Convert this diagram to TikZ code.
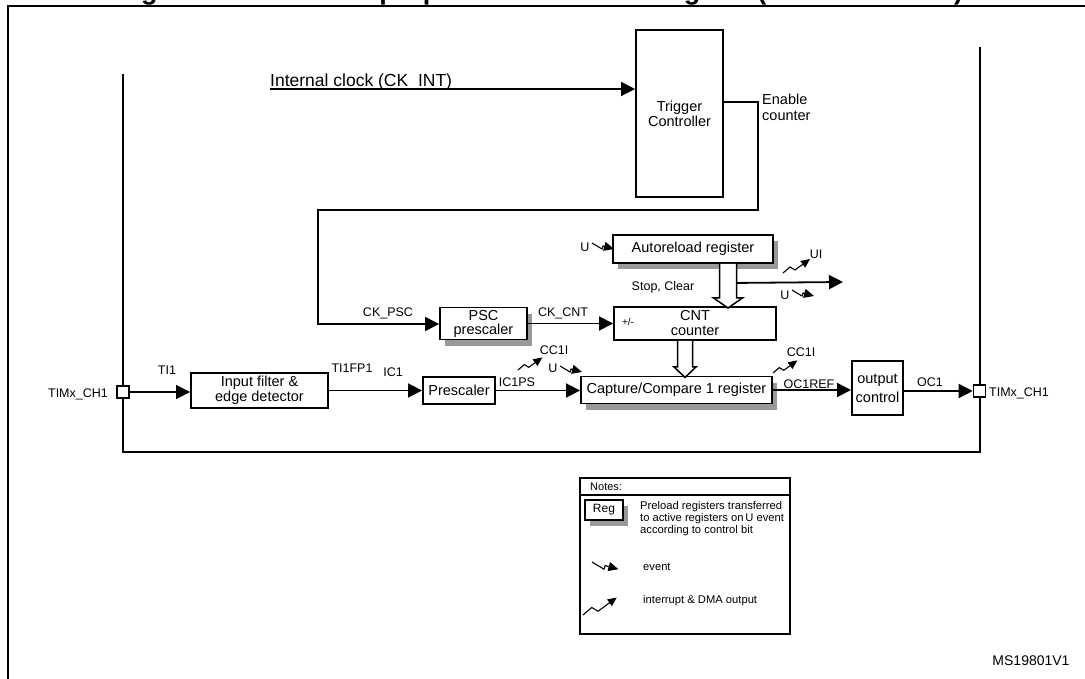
\documentclass[tikz,border=0pt]{standalone}
\usepackage{fontspec}
\setmainfont{Liberation Sans}
\usetikzlibrary{arrows.meta,shadows,calc}
\newcommand\fs[2]{\fontsize{#1}{#2}\selectfont}
\begin{document}
\begin{tikzpicture}[x=1pt,y=-1pt,
  box/.style={draw, line width=1.9pt, fill=white, align=center, font=\fs{14.5}{15}, inner sep=0pt},
  shad/.style={general shadow={fill=black!40, shadow xshift=5pt, shadow yshift=-6pt}},
  arr/.style={line width=1.8pt, -{Triangle[length=14pt,width=14pt]}},
  lbl/.style={font=\fs{12.5}{14}, inner sep=0pt},
  hollow/.style={draw, line width=1.5pt, fill=white},
  pin/.style={draw, line width=1.6pt, fill=white, minimum size=12pt, inner sep=0pt},
  evt/.pic={\draw[line width=1.1pt, -{Triangle[length=10pt,width=9pt]}] (0,0) -- (10,6) -- (11,3) -- (22,6);},
  intr/.pic={\draw[line width=1.1pt, -{Triangle[length=9pt,width=8pt]}] (0,0) -- (7,-6) -- (12,-3) -- (27,-14);}
]
\useasboundingbox (0,0) rectangle (1085,679);

% title (cropped at the top edge, as in the reference)
\node[anchor=base west, font=\fs{27}{30}\bfseries, inner sep=0pt] (title) at (117,-0.5)
  {Figure 136. General-purpose timer block diagram (TIM10/11/13/14)};

% outer frame
\draw[line width=2.2pt] (8,700) -- (8,6) -- (1100,6);

% inner boundary
\draw[line width=2.8pt] (123,74) -- (123,452) -- (980,452) -- (980,47);

% trigger controller
\node[box, minimum width=87pt, minimum height=167pt] (trig) at (679.5,113.5) {Trigger\\Controller};
\coordinate (clk) at (270,89);
\node[anchor=base west, font=\fs{17.5}{19}, inner sep=0pt] (clktxt) at (270,86.5) {Internal clock (CK\_INT)};
\draw[arr] (clk) -- (clk -| trig.west);
\node[anchor=west, align=left, font=\fs{14.5}{16}, inner sep=0pt] (entxt) at (762,107) {Enable\\counter};

% boxes
\node[box, shad, minimum width=160pt, minimum height=28pt] (arr) at (693,249) {Autoreload register};
\node[box, shad, minimum width=87pt, minimum height=32pt, font=\fs{14.5}{14}] (psc) at (483.5,323.5) {PSC\\prescaler};
\node[box, minimum width=162pt, minimum height=33pt] (cnt) at (695,323.5) {CNT\\counter};
\node[box, shad, minimum width=191pt, minimum height=27pt] (cc) at (676.5,390) {Capture/Compare 1 register};
\node[box, minimum width=137pt, minimum height=35pt] (filt) at (259.5,390.5) {Input filter \&\\edge detector};
\node[box, minimum width=72pt, minimum height=27pt] (pre) at (459,390.5) {Prescaler};
\node[box, minimum width=51pt, minimum height=54pt, font=\fs{14.5}{19}] (outc) at (877.5,388) {output\\control};
\node[pin] (lpin) at (123,392) {};
\node[pin] (rpin) at (979.5,391) {};

% enable counter path
\coordinate (b1) at (758,210);
\coordinate (b2) at (318,324);
\draw[arr] ([yshift=11.5pt]trig.east) -| (b1) -| (b2) -- (b2 -| psc.west);
\draw[arr] (psc.east) -- (psc.east -| cnt.west);

% labels
\node[lbl] (ckpsc) at (388,313) {CK\_PSC};
\node[lbl] (ckcnt) at (563,313) {CK\_CNT};
\node[font=\fs{10}{11}, inner sep=0pt] (pm) at (628,322) {+/-};
\node[lbl] (stop) at (663,287) {Stop, Clear};

% hollow arrows
\draw[hollow] ([xshift=26.5pt]arr.south) -- ++(0,34) -- ++(-6,0) -- ++(14.5,10) -- ++(14.5,-10) -- ++(-6,0) -- ++(0,-34);
\draw[hollow] ([xshift=-17.5pt]cnt.south) -- ++(0,26) -- ++(-3.5,0) -- ++(11,10.5) -- ++(11,-10.5) -- ++(-3.5,0) -- ++(0,-26);
\coordinate (uiend) at (843,282);
\draw[arr] ([xshift=43.5pt,yshift=-19pt]arr.south) -- (uiend);

% events / interrupts
\node[lbl] (u1) at (585,247) {U};
\pic at (592,243) {evt};
\node[lbl] (ui) at (816,254) {UI};
\pic at (783,273) {intr};
\node[lbl] (u2) at (785,295) {U};
\pic at (792,290) {evt};
\node[lbl] (u3) at (553,368) {U};
\pic at (560,366) {evt};
\node[lbl] (cc1a) at (554,350) {CC1I};
\pic[scale=0.9] at (518,370) {intr};
\node[lbl] (cc1b) at (801,352) {CC1I};
\pic[scale=0.9] at (773,373) {intr};

% main signal path
\draw[arr] (lpin.east) -- (lpin.east -| filt.west);
\draw[arr] (filt.east) -- (filt.east -| pre.west);
\draw[arr] (pre.east) -- (pre.east -| cc.west);
\draw[arr] (cc.east) -- (cc.east -| outc.west);
\draw[arr] (outc.east |- rpin.west) -- (rpin.west);
\node[lbl] (ti1) at (167,370) {TI1};
\node[lbl] (tifp) at (352,368) {TI1FP1};
\node[lbl] (ic1) at (393,372) {IC1};
\node[lbl] (ic1ps) at (517,382) {IC1PS};
\node[lbl] (ocref) at (809,384) {OC1REF};
\node[lbl] (oc1) at (930,382) {OC1};
\node[lbl] (tl) at (78,394) {TIMx\_CH1};
\node[lbl] (tr) at (1019,393) {TIMx\_CH1};

% notes
\node[draw, line width=2pt, minimum width=210pt, minimum height=156pt, inner sep=0pt] (notes) at (685,556) {};
\draw[line width=1.8pt] (notes.west |- 0,495) -- (notes.east |- 0,495);
\node[anchor=west, font=\fs{11}{12}, inner sep=0pt] (ntitle) at (590,487) {Notes:};
\node[box, shad, minimum width=38pt, minimum height=20pt, font=\fs{12}{13}] (reg) at (604,510) {Reg};
\node[anchor=north west, align=left, font=\fs{11.2}{12}, inner sep=0pt] (ntext) at (640,501) {Preload registers transferred\\to active registers on\,U event\\according to control bit};
\pic[scale=1.2] at (592,562) {evt};
\node[anchor=west, font=\fs{11.2}{12}, inner sep=0pt] (evtxt) at (643,567) {event};
\pic[scale=1.25] at (583,615) {intr};
\node[anchor=west, font=\fs{11.2}{12}, inner sep=0pt] (intxt) at (643,601) {interrupt \& DMA output};

\node[font=\fs{14}{15}, inner sep=0pt] (ms) at (1031,661) {MS19801V1};
\end{tikzpicture}
\end{document}
